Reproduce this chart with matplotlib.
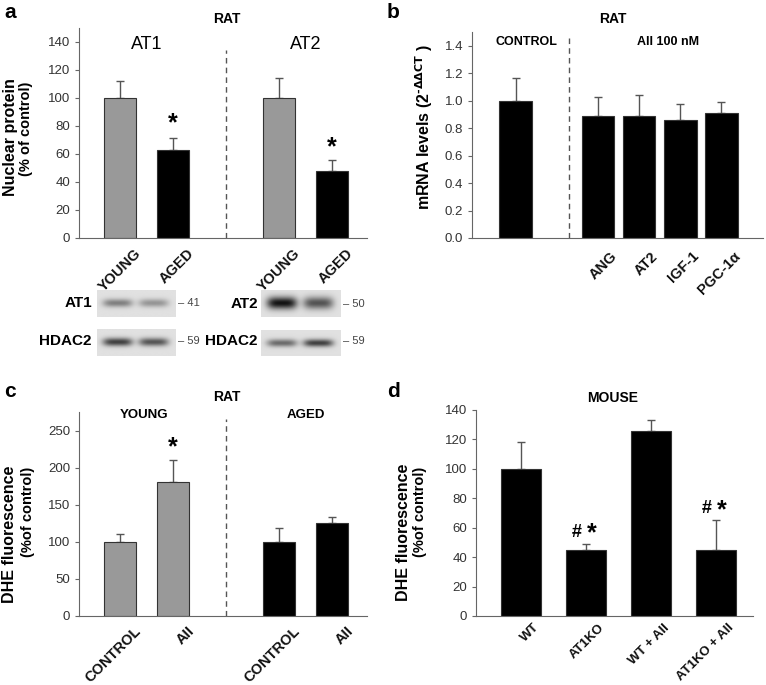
import matplotlib
matplotlib.use("Agg")
import matplotlib.pyplot as plt
import matplotlib.transforms as mtransforms
import numpy as np

plt.rcParams['font.family'] = ['Liberation Sans', 'DejaVu Sans']

# panel a - nuclear protein
a_labels = ['YOUNG', 'AGED', 'YOUNG', 'AGED']
a_values = [100, 63, 100, 48]
a_err = [12, 8.5, 14, 7.5]
a_colors = ['#999999', 'black', '#999999', 'black']

# panel b - mRNA levels
b_labels = ['', 'ANG', 'AT2', 'IGF-1', 'PGC-1α']
b_values = [1.0, 0.89, 0.89, 0.86, 0.91]
b_err = [0.165, 0.135, 0.15, 0.115, 0.08]

# panel c - DHE rat
c_labels = ['CONTROL', 'AII', 'CONTROL', 'AII']
c_values = [100, 181, 100, 126]
c_err = [10, 29, 18, 7]
c_colors = ['#999999', '#999999', 'black', 'black']

# panel d - DHE mouse
d_labels = ['WT', 'AT1KO', 'WT + AII', 'AT1KO + AII']
d_values = [100, 45, 126, 45]
d_err = [18, 4, 7, 20]

# western blot band darkness (young lane, aged lane)
blot_at1 = [0.45, 0.35]
blot_hdac_1 = [0.75, 0.65]
blot_at2 = [0.95, 0.65]
blot_hdac_2 = [0.55, 0.75]

W, H = 766, 685
fig = plt.figure(figsize=(W / 100, H / 100), dpi=100)


def box(l, t, r, b):
    return [l / W, 1 - b / H, (r - l) / W, (b - t) / H]


def ftext(x, y, s, **kw):
    fig.text(x / W, 1 - y / H, s, **kw)


def style(ax, labels, pos, fs=10.5, pad=6, shift=14):
    for s in ['top', 'right']:
        ax.spines[s].set_visible(False)
    for s in ['left', 'bottom']:
        ax.spines[s].set_color('#666666')
    ax.tick_params(axis='y', colors='#333333', labelsize=9.5, length=3, color='#666666')
    ax.tick_params(axis='x', length=0, pad=pad)
    ax.set_xticks(pos)
    ax.set_xticklabels(labels, rotation=45, ha='right', rotation_mode='anchor',
                       fontweight='bold', fontsize=fs, color='#111111')
    off = mtransforms.ScaledTranslation(shift / 100, 0, fig.dpi_scale_trans)
    for lab in ax.get_xticklabels():
        lab.set_transform(lab.get_transform() + off)


def bars(ax, pos, vals, err, colors, width):
    ax.bar(pos, vals, width=width, color=colors, edgecolor='#333333', linewidth=0.8, zorder=2)
    ax.errorbar(pos, vals, yerr=[np.zeros(len(vals)), err], fmt='none',
                ecolor='#555555', elinewidth=1, capsize=3, zorder=1)


# ---------- a ----------
ax = fig.add_axes(box(79, 28, 367, 238))
pos = [0, 1, 3, 4]
bars(ax, pos, a_values, a_err, a_colors, 0.6)
ax.set_xlim(-0.77, 4.66)
ax.set_ylim(0, 150)
ax.set_yticks(range(0, 141, 20))
style(ax, a_labels, pos, 10.5)
ax.vlines(2, 0, 134, colors='#555555', linestyles=(0, (4, 3)), linewidth=1)
ax.text(0.5, 138, 'AT1', ha='center', va='center', fontsize=13)
ax.text(3.5, 138, 'AT2', ha='center', va='center', fontsize=13)
ax.text(1, 82, '*', ha='center', va='center', fontsize=18, fontweight='bold')
ax.text(4, 65, '*', ha='center', va='center', fontsize=18, fontweight='bold')
ftext(227, 19, 'RAT', ha='center', va='center', fontsize=10, fontweight='bold')
ftext(4, 12, 'a', ha='left', va='center', fontsize=15, fontweight='bold')
ftext(11, 137, 'Nuclear protein', rotation=90, ha='center', va='center', fontsize=11.5, fontweight='bold')
ftext(26, 129, '(% of control)', rotation=90, ha='center', va='center', fontsize=10.5, fontweight='bold')


def blot(l, t, r, b, dark, thick):
    bx = fig.add_axes(box(l, t, r, b))
    nx, ny = 80, 27
    xx = np.linspace(0, 1, nx)[None, :]
    yy = np.linspace(-1, 1, ny)[:, None]
    img = np.full((ny, nx), 0.88)
    for c, d in zip([0.26, 0.72], dark):
        img = img - d * 0.85 * np.exp(-((xx - c) / 0.19) ** 4) * np.exp(-(yy / thick) ** 2)
    bx.imshow(img, cmap='gray', vmin=0, vmax=1, aspect='auto', interpolation='bilinear')
    bx.axis('off')


blot(97, 290, 176, 317, blot_at1, 0.3)
blot(97, 329, 176, 356, blot_hdac_1, 0.3)
blot(261, 290, 341, 317, blot_at2, 0.45)
blot(261, 330, 341, 356, blot_hdac_2, 0.3)
for x, y, s in [(92, 303, 'AT1'), (92, 341, 'HDAC2'), (258, 304, 'AT2'), (258, 341, 'HDAC2')]:
    ftext(x, y, s, ha='right', va='center', fontsize=11, fontweight='bold')
for x, y, s in [(178, 303, '– 41'), (178, 341, '– 59'), (343, 304, '– 50'), (343, 341, '– 59')]:
    ftext(x, y, s, ha='left', va='center', fontsize=8, color='#444444')

# ---------- b ----------
ax = fig.add_axes(box(472, 32, 763, 238))
pos = [0, 2, 3, 4, 5]
bars(ax, pos, b_values, b_err, ['black'] * 5, 0.8)
ax.set_xlim(-1.07, 6.02)
ax.set_ylim(0, 1.5)
ax.set_yticks(np.arange(0, 1.41, 0.2))
ax.set_yticklabels(['%.1f' % v for v in np.arange(0, 1.41, 0.2)])
style(ax, b_labels, pos, 10.5, 8, 12)
ax.vlines(1.29, 0, 1.46, colors='#555555', linestyles=(0, (4, 3)), linewidth=1)
ax.text(0.25, 1.43, 'CONTROL', ha='center', va='center', fontsize=9, fontweight='bold')
ax.text(3.7, 1.43, 'AII 100 nM', ha='center', va='center', fontsize=9, fontweight='bold')
ftext(613, 19, 'RAT', ha='center', va='center', fontsize=10, fontweight='bold')
ftext(387, 12, 'b', ha='left', va='center', fontsize=15, fontweight='bold')
ftext(424, 127, 'mRNA levels (2$^{\\mathbf{‐\\Delta\\Delta CT}}$ )', rotation=90, ha='center', va='center',
      fontsize=11.5, fontweight='bold')

# ---------- c ----------
ax = fig.add_axes(box(79, 412, 367, 616))
pos = [0, 1, 3, 4]
bars(ax, pos, c_values, c_err, c_colors, 0.6)
ax.set_xlim(-0.77, 4.66)
ax.set_ylim(0, 275)
ax.set_yticks(range(0, 251, 50))
style(ax, c_labels, pos)
ax.vlines(2, 0, 265, colors='#555555', linestyles=(0, (4, 3)), linewidth=1)
ax.text(0.45, 271, 'YOUNG', ha='center', va='center', fontsize=9.5, fontweight='bold')
ax.text(3.5, 271, 'AGED', ha='center', va='center', fontsize=9.5, fontweight='bold')
ax.text(1, 227, '*', ha='center', va='center', fontsize=18, fontweight='bold')
ftext(227, 397, 'RAT', ha='center', va='center', fontsize=10, fontweight='bold')
ftext(4, 392, 'c', ha='left', va='center', fontsize=15, fontweight='bold')
ftext(10, 534, 'DHE fluorescence', rotation=90, ha='center', va='center', fontsize=11.5, fontweight='bold')
ftext(28, 512, '(%of control)', rotation=90, ha='center', va='center', fontsize=10.5, fontweight='bold')

# ---------- d ----------
ax = fig.add_axes(box(476, 410, 753, 616))
pos = [0, 1, 2, 3]
bars(ax, pos, d_values, d_err, ['black'] * 4, 0.62)
ax.set_xlim(-0.69, 3.57)
ax.set_ylim(0, 140)
ax.set_yticks(range(0, 141, 20))
style(ax, d_labels, pos, 9.5, 4, 12)
for x, y in [(1, 57), (3, 73)]:
    ax.text(x - 0.06, y, '#', ha='right', va='center', fontsize=13, fontweight='bold')
    ax.text(x + 0.02, y - 1, '*', ha='left', va='center', fontsize=18, fontweight='bold')
ftext(613, 398, 'MOUSE', ha='center', va='center', fontsize=10, fontweight='bold')
ftext(387, 392, 'd', ha='left', va='center', fontsize=15, fontweight='bold')
ftext(404, 532, 'DHE fluorescence', rotation=90, ha='center', va='center', fontsize=11.5, fontweight='bold')
ftext(420, 512, '(%of control)', rotation=90, ha='center', va='center', fontsize=10.5, fontweight='bold')

fig.savefig('out.png', dpi=100)
